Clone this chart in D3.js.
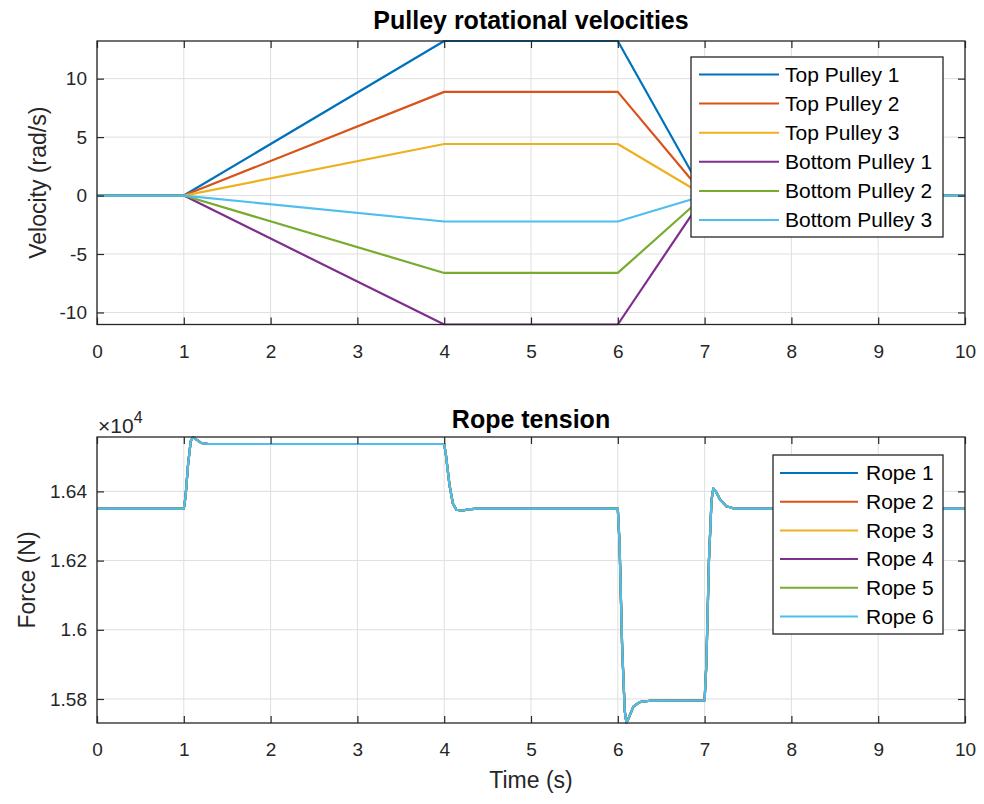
<!DOCTYPE html>
<html>
<head>
<meta charset="utf-8">
<script src="https://cdn.jsdelivr.net/npm/d3@7"></script>
<style>
  body { margin: 0; background: #fff; }
  svg { display: block; font-family: "Liberation Sans", Arial, Helvetica, sans-serif; }
</style>
</head>
<body>
<svg id="chart" width="984" height="804"></svg>
<script>
// ---------------- data ----------------
const velTime = [0, 1, 4, 6, 7, 10];
const pulleyNames = ["Top Pulley 1", "Top Pulley 2", "Top Pulley 3", "Bottom Pulley 1", "Bottom Pulley 2", "Bottom Pulley 3"];
const topPulley1 = [0, 0, 13.22, 13.22, 0, 0];
const topPulley2 = [0, 0, 8.87, 8.87, 0, 0];
const topPulley3 = [0, 0, 4.41, 4.41, 0, 0];
const bottomPulley1 = [0, 0, -11.03, -11.03, 0, 0];
const bottomPulley2 = [0, 0, -6.62, -6.62, 0, 0];
const bottomPulley3 = [0, 0, -2.22, -2.22, 0, 0];
const velTicks = [-10, -5, 0, 5, 10];

const ropeNames = ["Rope 1", "Rope 2", "Rope 3", "Rope 4", "Rope 5", "Rope 6"];
const tensionTime = [0, 1.0, 1.02, 1.05, 1.08, 1.105, 1.15, 1.2, 1.28, 4.0, 4.02, 4.06, 4.1, 4.14, 4.2, 4.28, 4.38, 6.0, 6.02, 6.05, 6.08, 6.1, 6.13, 6.18, 6.25, 6.37, 7.0, 7.02, 7.05, 7.08, 7.1, 7.13, 7.18, 7.25, 7.35, 10];
const tensionForce = [16350, 16350, 16385, 16480, 16545, 16557, 16549, 16540, 16537, 16537, 16505, 16420, 16365, 16347, 16344, 16348, 16350, 16350, 16250, 15950, 15765, 15731, 15748, 15778, 15791, 15795, 15796, 15900, 16200, 16375, 16408, 16400, 16376, 16357, 16350, 16350];
const rope1 = tensionForce, rope2 = tensionForce, rope3 = tensionForce, rope4 = tensionForce, rope5 = tensionForce, rope6 = tensionForce;
const forceTicks = [15800, 16000, 16200, 16400];
const timeTicks = [0, 1, 2, 3, 4, 5, 6, 7, 8, 9, 10];

const colors = ["#0072BD", "#D95319", "#EDB120", "#7E2F8E", "#77AC30", "#4DBEEE"];

// ---------------- layout ----------------
const svg = d3.select("#chart");
const L = 97, R = 965;
const axCol = "#262626";
const tickFont = 19, labelFont = 23, titleFont = 25, legendFont = 21;

function drawAxes(cfg) {
  const x = d3.scaleLinear().domain([0, 10]).range([L, R]);
  const y = d3.scaleLinear().domain(cfg.ydomain).range([cfg.bottom, cfg.top]);
  const g = svg.append("g");
  // grid
  g.append("g").selectAll("line").data(timeTicks).join("line")
    .attr("x1", d => x(d)).attr("x2", d => x(d)).attr("y1", cfg.top).attr("y2", cfg.bottom)
    .attr("stroke", "#dfdfdf").attr("stroke-width", 1);
  g.append("g").selectAll("line").data(cfg.yticks).join("line")
    .attr("y1", d => y(d)).attr("y2", d => y(d)).attr("x1", L).attr("x2", R)
    .attr("stroke", "#dfdfdf").attr("stroke-width", 1);
  // clip
  const clipId = "clip" + cfg.id;
  svg.append("clipPath").attr("id", clipId).append("rect")
    .attr("x", L).attr("y", cfg.top - 1).attr("width", R - L).attr("height", cfg.bottom - cfg.top + 2);
  const lines = g.append("g").attr("clip-path", `url(#${clipId})`);
  const line = d3.line().x(d => x(d[0])).y(d => y(d[1]));
  cfg.series.forEach((s, i) => {
    lines.append("path").datum(cfg.time.map((t, k) => [t, s[k]]))
      .attr("d", line).attr("fill", "none").attr("stroke", colors[i])
      .attr("stroke-width", 2.2).attr("stroke-linejoin", "round");
  });
  // axes with inward ticks on all four sides
  const fmt = cfg.fmt || (d => d);
  const xb = g.append("g").attr("transform", `translate(0,${cfg.bottom})`)
    .call(d3.axisBottom(x).tickValues(timeTicks).tickSize(-7).tickPadding(20).tickFormat(d => d));
  const xt = g.append("g").attr("transform", `translate(0,${cfg.top})`)
    .call(d3.axisTop(x).tickValues(timeTicks).tickSize(-7).tickFormat(""));
  const yl = g.append("g").attr("transform", `translate(${L},0)`)
    .call(d3.axisLeft(y).tickValues(cfg.yticks).tickSize(-7).tickPadding(10).tickFormat(fmt));
  const yr = g.append("g").attr("transform", `translate(${R},0)`)
    .call(d3.axisRight(y).tickValues(cfg.yticks).tickSize(-7).tickFormat(""));
  [xb, xt, yl, yr].forEach(a => {
    a.select(".domain").remove();
    a.selectAll(".tick line").attr("stroke", axCol).attr("stroke-width", 1.2);
    a.selectAll("text").attr("fill", axCol).attr("font-size", tickFont)
      .attr("font-family", "Liberation Sans, Arial, sans-serif");
  });
  // box
  g.append("rect").attr("x", L).attr("y", cfg.top).attr("width", R - L).attr("height", cfg.bottom - cfg.top)
    .attr("fill", "none").attr("stroke", axCol).attr("stroke-width", 1.3);
  // title
  g.append("text").attr("x", (L + R) / 2).attr("y", cfg.titleY).attr("text-anchor", "middle")
    .attr("font-size", titleFont).attr("font-weight", "bold").attr("fill", "#000").text(cfg.title);
  // y label
  g.append("text").attr("transform", `translate(${cfg.ylabelX},${(cfg.top + cfg.bottom) / 2}) rotate(-90)`)
    .attr("text-anchor", "middle").attr("font-size", labelFont).attr("fill", axCol).text(cfg.ylabel);
  // legend
  const lg = g.append("g");
  const lw = cfg.legend;
  lg.append("rect").attr("x", lw.x).attr("y", lw.y).attr("width", lw.w).attr("height", lw.h)
    .attr("fill", "#fff").attr("stroke", axCol).attr("stroke-width", 1.3);
  cfg.names.forEach((n, i) => {
    const yy = lw.y + lw.first + i * lw.step;
    lg.append("line").attr("x1", lw.x + lw.l1).attr("x2", lw.x + lw.l2).attr("y1", yy).attr("y2", yy)
      .attr("stroke", colors[i]).attr("stroke-width", 2);
    lg.append("text").attr("x", lw.x + lw.tx).attr("y", yy).attr("dy", "0.35em")
      .attr("font-size", legendFont).attr("fill", "#000").text(n);
  });
  return { x, y, g };
}

drawAxes({
  id: "top", top: 41, bottom: 324.5, ydomain: [-11.03, 13.22], yticks: velTicks,
  time: velTime, series: [topPulley1, topPulley2, topPulley3, bottomPulley1, bottomPulley2, bottomPulley3],
  title: "Pulley rotational velocities", titleY: 29, ylabel: "Velocity (rad/s)", ylabelX: 46,
  names: pulleyNames,
  legend: { x: 691, y: 57, w: 252, h: 180, first: 17.5, step: 29.1, l1: 8, l2: 88, tx: 94 }
});

drawAxes({
  id: "bot", top: 437, bottom: 723, ydomain: [15730.6, 16557.2], yticks: forceTicks,
  time: tensionTime, series: [rope1, rope2, rope3, rope4, rope5, rope6],
  title: "Rope tension", titleY: 428, ylabel: "Force (N)", ylabelX: 35,
  fmt: d => d3.format("~g")(d / 1e4),
  names: ropeNames,
  legend: { x: 773, y: 455, w: 170, h: 179, first: 18, step: 28.7, l1: 7, l2: 85, tx: 93 }
});

// exponent label
const ex = svg.append("text").attr("x", 98).attr("y", 433).attr("font-size", 21).attr("fill", axCol);
ex.append("tspan").text("\u00d710");
ex.append("tspan").attr("dy", -10).attr("font-size", 16).text("4");

// x label
svg.append("text").attr("x", (L + R) / 2).attr("y", 788).attr("text-anchor", "middle")
  .attr("font-size", labelFont).attr("fill", axCol).text("Time (s)");
</script>
</body>
</html>
